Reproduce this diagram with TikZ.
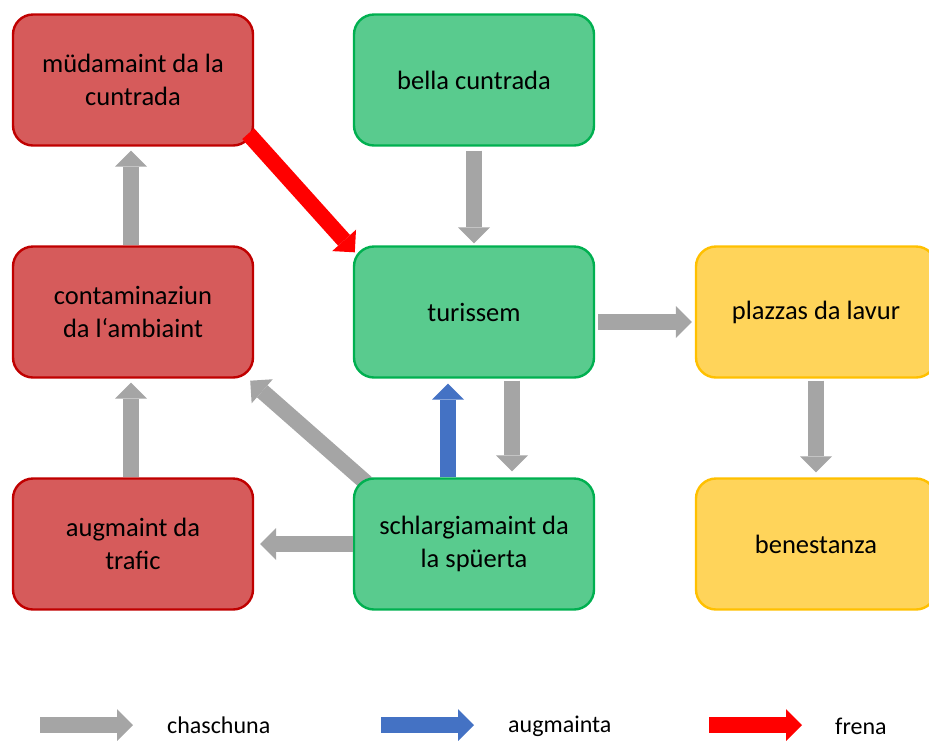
\documentclass[tikz,border=0pt]{standalone}
\usepackage{fontspec}
\setmainfont{Carlito}
\usetikzlibrary{arrows.meta,backgrounds}
\definecolor{redfill}{HTML}{D65B5B}
\definecolor{redline}{HTML}{C00000}
\definecolor{greenfill}{HTML}{59CB8E}
\definecolor{greenline}{HTML}{00B050}
\definecolor{yellowfill}{HTML}{FFD45A}
\definecolor{yellowline}{HTML}{FFC000}
\definecolor{arrowgray}{HTML}{A5A5A5}
\definecolor{arrowblue}{HTML}{4472C4}
\definecolor{arrowred}{HTML}{FF0000}

\begin{document}
\begin{tikzpicture}[
    x=1pt, y=-1pt,
    box/.style={
        rounded corners=20pt,
        line width=2.4pt,
        minimum width=240pt,
        minimum height=131pt,
        align=center,
        font=\fontsize{26.5}{32.5}\selectfont
    },
    redbox/.style={box, fill=redfill, draw=redline},
    greenbox/.style={box, fill=greenfill, draw=greenline},
    yellowbox/.style={box, fill=yellowfill, draw=yellowline},
    fat/.style={
        line width=16pt,
        -{Triangle[length=16pt,width=32pt,line width=0pt]}
    },
    chaschuna/.style={fat, draw=arrowgray},
    augmainta/.style={fat, draw=arrowblue},
    frena/.style={fat, draw=arrowred},
    legend/.style={anchor=west, inner sep=1pt, font=\fontsize{24}{29}\selectfont}
]
\clip (0,0) rectangle (929,740);

% boxes
\node[redbox]    (mued)   at (133,80)  {müdamaint da la\\cuntrada};
\node[greenbox]  (bella)  at (474,80)  {bella cuntrada};
\node[redbox]    (contam) at (133,312) {contaminaziun\\da l‘ambiaint};
\node[greenbox]  (tur)    at (474,312) {turissem};
\node[yellowbox] (plaz)   at (816,312) {plazzas da lavur};
\node[redbox]    (augm)   at (133,544) {augmaint da\\trafic};
\node[greenbox]  (schl)   at (474,544) {schlargiamaint da\\la spüerta};
\node[yellowbox] (bene)   at (816,544) {benestanza};

% effects
\draw[chaschuna, shorten >=4pt] ([xshift=-2pt]contam.north) -- ([xshift=-2pt]mued.south);
\draw[chaschuna, shorten >=4pt] ([xshift=-2pt]augm.north) -- ([xshift=-2pt]contam.south);
\draw[chaschuna, shorten <=4pt, shorten >=2pt] (bella.south) -- (tur.north);
\draw[chaschuna, shorten <=3pt, shorten >=3pt] ([yshift=-10pt]tur.east) -- ([yshift=-10pt]plaz.west);
\draw[chaschuna, shorten <=2pt, shorten >=5pt] (plaz.south) -- (bene.north);
\draw[chaschuna, shorten <=2pt, shorten >=6pt] ([xshift=38pt]tur.south) -- ([xshift=38pt]schl.north);
\draw[augmainta, shorten >=5pt] ([xshift=-26pt]schl.north) -- ([xshift=-26pt]tur.south);
\draw[chaschuna, shorten >=6pt] (schl.west) -- (augm.east);
\begin{scope}[on background layer]
\draw[chaschuna] ([xshift=14pt,yshift=-6pt]schl.north west) -- ([xshift=-4pt,yshift=-2pt]contam.south east);
\end{scope}
\draw[frena] ([xshift=-6pt,yshift=13pt]mued.south east) -- ([xshift=2pt,yshift=-7pt]tur.north west);

% legend
\coordinate (graytail) at (40,725);
\coordinate (grayhead) at (133,725);
\coordinate (bluetail) at (381,725);
\coordinate (bluehead) at (474,725);
\coordinate (redtail)  at (709,725);
\coordinate (redhead)  at (802,725);
\draw[chaschuna] (graytail) -- (grayhead);
\draw[augmainta] (bluetail) -- (bluehead);
\draw[frena]     (redtail)  -- (redhead);
\node[legend] (lgray) at (166,725) {chaschuna};
\node[legend] (lblue) at (507,726) {augmainta};
\node[legend] (lred)  at (834,726) {frena};
\end{tikzpicture}
\end{document}
